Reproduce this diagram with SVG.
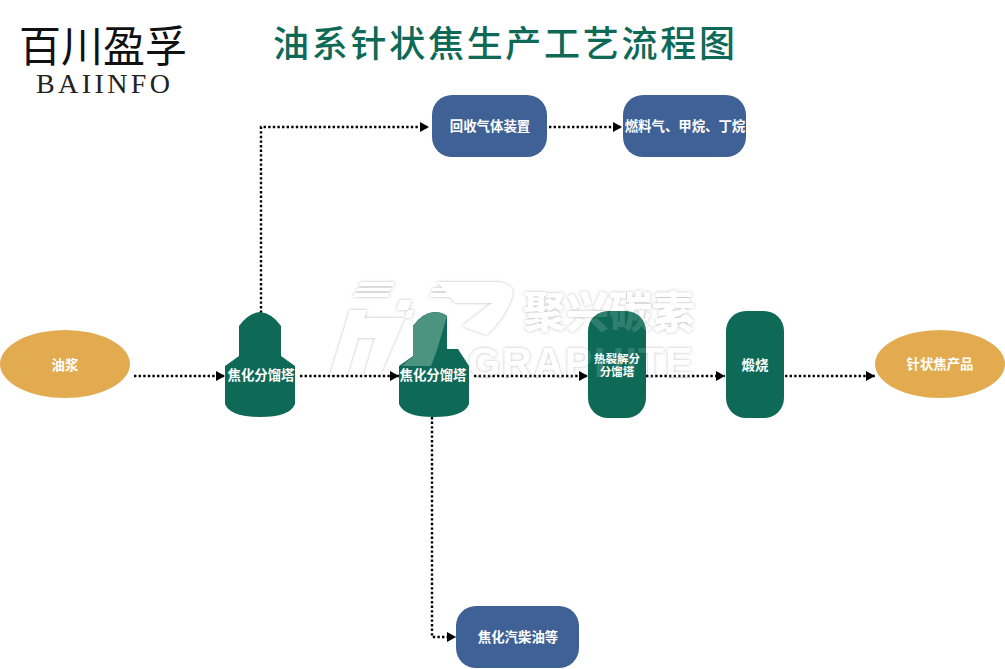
<svg xmlns="http://www.w3.org/2000/svg" width="1005" height="669" viewBox="0 0 1005 669">
<defs>
<marker id="ah" markerUnits="userSpaceOnUse" markerWidth="10" markerHeight="11" refX="9" refY="5.5" orient="auto"><path d="M0,0.5L9,5.5L0,10.5Z" fill="#000"/></marker>
<filter id="glow" x="-5%" y="-5%" width="110%" height="110%"><feGaussianBlur in="SourceAlpha" stdDeviation="1.6" result="b"/><feFlood flood-color="#808080" flood-opacity=".55"/><feComposite in2="b" operator="in"/><feMerge><feMergeNode/><feMergeNode in="SourceGraphic"/></feMerge></filter>
<g id="wm">
<path d="M361,282H395L393,286H359ZM358,288H392L390,291H356ZM355,293H390L388,297H353ZM350,310H367L364,318H411L414,310H396L400,300H412L380,375H364L375,338H358L347,375H330Z"/>
<path d="M437,282H495Q516,283 512,297Q506,316 487,335L462,326L492,303H455ZM433,288H470L468,291H431ZM431,293H466L464,297H429Z"/>
<text x="609" y="328" font-family="'Noto Sans CJK SC',sans-serif" font-size="43" font-weight="900" text-anchor="middle" textLength="172">聚兴碳素</text>
<text x="468" y="377" font-family="'Liberation Sans',sans-serif" font-size="42" font-weight="700" textLength="225">GRAPHITE</text>
</g>
</defs>
<style>
.t{font-family:"Noto Sans CJK SC","Liberation Sans",sans-serif;font-weight:700;fill:#fff;font-size:13.4px;text-anchor:middle}
.s{font-size:11.5px}
.c{fill:none;stroke:#000;stroke-width:2.4;stroke-dasharray:2.4 2.2;marker-end:url(#ah)}
.g{fill:#0e6a56}.b{fill:#3f6196}.o{fill:#e2ab50}
</style>
<rect width="1005" height="669" fill="#fff"/>
<use href="#wm" fill="#fff" filter="url(#glow)"/>
<g id="logo">
<text x="103" y="62" font-family="'Noto Sans CJK SC',sans-serif" font-size="43" font-weight="400" fill="#111" text-anchor="middle" textLength="168" lengthAdjust="spacingAndGlyphs">百川盈孚</text>
<text x="103" y="93" font-family="'Liberation Serif',serif" font-size="28" fill="#222" text-anchor="middle" textLength="134">BAIINFO</text>
</g>
<text id="title" x="504" y="57" font-family="'Noto Sans CJK SC',sans-serif" font-size="36" font-weight="500" fill="#0e6a56" text-anchor="middle" textLength="462">油系针状焦生产工艺流程图</text>
<g id="connectors">
<path class="c" d="M261,313V127H429"/>
<path class="c" d="M549,127H622"/>
<path class="c" d="M134,376H225"/>
<path class="c" d="M300,376H399"/>
<path class="c" d="M474,376H588"/>
<path class="c" d="M646,376H725"/>
<path class="c" d="M785,376H875"/>
<path class="c" d="M432,417V637H456"/>
</g>
<g id="n-youjiang"><ellipse class="o" cx="65" cy="364" rx="65" ry="34"/><text class="t" x="65" y="370">油浆</text></g>
<g id="n-tower1"><path class="g" d="M239,326Q248,313 260,312Q272,313 281,326V356L295,366V404Q290,417 260,417Q230,417 225,404V366L239,356Z"/><text class="t" x="261" y="380">焦化分馏塔</text></g>
<g id="n-tower2"><path class="g" d="M413,326Q422,313 434,312Q442,312 447,316V349H458L469,366V404Q464,417 434,417Q404,417 399,404V366L413,356Z"/><path fill="#4c9380" d="M413,326Q422,313 434,312Q442,312 447,316L437,350L431,366H402L413,356Z"/><text class="t" x="433" y="380">焦化分馏塔</text></g>
<g id="n-huishou"><rect class="b" x="432" y="95" width="115" height="62" rx="20"/><text class="t" x="490" y="131">回收气体装置</text></g>
<g id="n-ranliao"><rect class="b" x="623" y="95" width="123" height="62" rx="20"/><text class="t" x="685" y="131">燃料气、甲烷、丁烷</text></g>
<g id="n-relie"><rect class="g" x="588" y="311" width="58" height="107" rx="20"/><text class="t s" x="617" y="363">热裂解分</text><text class="t s" x="617" y="376">分馏塔</text></g>
<g id="n-duanshao"><rect class="g" x="726" y="311" width="58" height="107" rx="20"/><text class="t" x="755" y="370">煅烧</text></g>
<g id="n-chanpin"><ellipse class="o" cx="940" cy="364" rx="65" ry="34"/><text class="t" x="940" y="369">针状焦产品</text></g>
<g id="n-qichai"><rect class="b" x="456" y="606" width="123" height="62" rx="20"/><text class="t" x="518" y="642">焦化汽柴油等</text></g>
<use href="#wm" fill="#fff" opacity=".14"/>
</svg>
